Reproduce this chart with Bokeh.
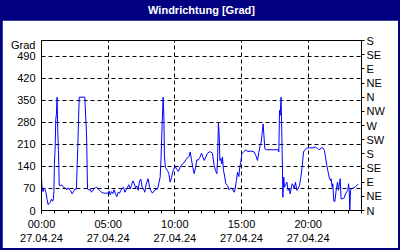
from bokeh.plotting import figure
from bokeh.models import Range1d, LinearAxis, FixedTicker
from bokeh.layouts import column
from bokeh.core.properties import value
from bokeh.embed import file_html
from bokeh.resources import INLINE

FONT = "Liberation Sans"

title_text = "Windrichtung [Grad]"
y_unit_label = "Grad"

# time of day in hours (27.04.24), wind direction in degrees
hours = [0.00, 0.05, 0.12, 0.20, 0.27, 0.33, 0.42, 0.50, 0.58, 0.67, 0.75, 0.80, 0.88, 0.93, 0.97,
         1.02, 1.07, 1.12, 1.17, 1.22, 1.27, 1.30, 1.33, 1.42, 1.50, 1.60, 1.70, 1.80, 1.90, 2.00,
         2.10, 2.20, 2.30, 2.40, 2.50, 2.62, 2.72, 2.78, 2.83, 3.25, 3.30, 3.38, 3.45, 3.55, 3.65,
         3.75, 3.85, 3.95, 4.05, 4.15, 4.25, 4.35, 4.45, 4.55, 4.70, 4.90, 5.00, 5.08, 5.15, 5.25,
         5.35, 5.45, 5.55, 5.65, 5.75, 5.85, 5.95, 6.05, 6.15, 6.25, 6.35, 6.45, 6.55, 6.65, 6.75,
         6.85, 6.95, 7.05, 7.15, 7.25, 7.35, 7.45, 7.55, 7.65, 7.75, 7.85, 8.00, 8.10, 8.20, 8.32,
         8.45, 8.57, 8.70, 8.82, 8.90, 8.97, 9.02, 9.07, 9.12, 9.18, 9.22, 9.30, 9.45, 9.55, 9.65,
         9.75, 9.87, 10.02, 10.15, 10.27, 10.40, 10.57, 10.70, 10.82, 10.95, 11.07, 11.15, 11.25, 11.35, 11.45,
         11.55, 11.65, 11.75, 11.87, 12.00, 12.10, 12.20, 12.32, 12.45, 12.57, 12.70, 12.82, 12.95, 13.05, 13.15,
         13.20, 13.27, 13.33, 13.38, 13.45, 13.52, 13.57, 13.65, 13.75, 13.82, 13.95, 14.07, 14.20, 14.32, 14.45,
         14.52, 14.62, 14.70, 14.80, 14.87, 14.95, 15.02, 15.20, 15.35, 15.45, 15.70, 15.95, 16.07, 16.20, 16.30,
         16.40, 16.48, 16.57, 16.62, 16.67, 16.75, 16.85, 17.75, 17.80, 17.85, 17.90, 17.97, 18.02, 18.07, 18.10,
         18.17, 18.22, 18.30, 18.40, 18.50, 18.58, 18.65, 18.80, 18.88, 18.95, 19.05, 19.15, 19.25, 19.35, 19.45,
         19.55, 19.65, 19.75, 19.90, 20.10, 20.35, 20.55, 20.72, 20.85, 20.97, 21.10, 21.22, 21.30, 21.40, 21.47,
         21.60, 21.68, 21.72, 21.80, 21.85, 21.92, 22.00, 22.10, 22.20, 22.27, 22.40, 22.47, 22.55, 22.70, 22.80,
         22.97, 23.03, 23.08, 23.12, 23.18, 23.27, 23.40, 23.55, 23.75]
degrees = [101, 68, 60, 72, 66, 58, 35, 18, 22, 28, 36, 30, 32, 60, 150,
           195, 290, 305, 360, 250, 190, 140, 80, 78, 82, 76, 73, 70, 66, 72,
           66, 62, 53, 60, 68, 68, 200, 290, 360, 360, 310, 240, 69, 64, 68,
           58, 64, 70, 72, 74, 68, 64, 60, 57, 55, 55, 55, 62, 50, 60,
           54, 66, 52, 44, 58, 55, 64, 70, 74, 58, 66, 74, 82, 68, 80,
           94, 86, 72, 78, 64, 94, 100, 74, 68, 58, 84, 101, 75, 63, 55,
           62, 68, 68, 90, 106, 170, 240, 297, 360, 297, 170, 136, 127, 117, 90,
           105, 127, 140, 130, 124, 138, 148, 152, 161, 168, 172, 186, 161, 136, 117,
           136, 161, 160, 168, 182, 170, 159, 170, 182, 186, 186, 182, 143, 127, 117,
           153, 278, 238, 159, 165, 148, 170, 127, 106, 85, 79, 66, 72, 68, 58,
           68, 95, 122, 108, 138, 153, 180, 188, 193, 187, 189, 186, 175, 159, 185,
           207, 217, 254, 275, 245, 196, 193, 193, 186, 318, 302, 360, 250, 138, 42,
           106, 74, 80, 90, 64, 70, 53, 85, 80, 69, 90, 64, 69, 80, 106,
           138, 186, 193, 198, 199, 199, 202, 196, 193, 199, 199, 191, 170, 143, 127,
           101, 95, 101, 74, 85, 30, 28, 64, 90, 64, 101, 37, 37, 40, 53,
           64, 85, 64, 0, 64, 70, 72, 76, 84]

y_ticks = [0, 70, 140, 210, 280, 350, 420, 490]
y_unit_pos = 525
compass_ticks = [0, 45, 90, 135, 180, 225, 270, 315, 360, 405, 450, 495, 540]
compass_labels = ["N", "NE", "E", "SE", "S", "SW", "W", "NW", "N", "NE", "E", "SE", "S"]
x_ticks = [0, 5, 10, 15, 20]
x_minor_ticks = list(range(0, 25))
x_labels = ["00:00\n27.04.24", "05:00\n27.04.24", "10:00\n27.04.24",
            "15:00\n27.04.24", "20:00\n27.04.24"]

NAVY = "#000080"

# header bar
header = figure(width=396, height=20, x_range=Range1d(0, 1), y_range=Range1d(0, 1),
                output_backend="svg", toolbar_location=None, min_border=0,
                x_axis_type=None, y_axis_type=None,
                background_fill_color=NAVY, border_fill_color=NAVY,
                outline_line_color=None)
header.text(x=[0.5], y=[0.55], text=[title_text], text_align="center", text_baseline="middle",
            text_color="white", text_font=value(FONT), text_font_size="11px",
            text_font_style="bold")

# main chart
p = figure(width=396, height=228, x_range=Range1d(0, 24), y_range=Range1d(0, 540),
           output_backend="svg", toolbar_location=None,
           min_border_left=39, min_border_right=37, min_border_top=20, min_border_bottom=38,
           background_fill_color="white", border_fill_color="white",
           outline_line_color="black", outline_line_width=1)

p.line(hours, degrees, line_color="#0000FF", line_width=1)

p.xaxis.ticker = FixedTicker(ticks=x_ticks, minor_ticks=x_minor_ticks)
p.xaxis.major_label_overrides = {t: l for t, l in zip(x_ticks, x_labels)}
p.xaxis.major_tick_in = 0
p.xaxis.major_tick_out = 3
p.xaxis.minor_tick_in = 0
p.xaxis.minor_tick_out = 3
p.xaxis.major_label_standoff = 4
p.xaxis.major_label_text_line_height = 1.2

# left axis: value ticks plus the unit label "Grad" above the top tick
p.yaxis.ticker = FixedTicker(ticks=y_ticks + [y_unit_pos])
p.yaxis.major_label_overrides = {y_unit_pos: y_unit_label}
p.yaxis.major_tick_in = 0
p.yaxis.major_tick_out = 0
p.yaxis.minor_tick_in = 0
p.yaxis.minor_tick_out = 0
p.yaxis.major_label_standoff = 6
p.ygrid.ticker = FixedTicker(ticks=y_ticks)

right = LinearAxis(ticker=FixedTicker(ticks=compass_ticks),
                   major_label_overrides={t: l for t, l in zip(compass_ticks, compass_labels)},
                   major_tick_in=0, major_tick_out=3, minor_tick_in=0, minor_tick_out=0,
                   major_label_standoff=2)
p.add_layout(right, "right")

for ax in [p.xaxis[0], p.yaxis[0], right]:
    ax.axis_line_color = "black"
    ax.major_tick_line_color = "black"
    ax.minor_tick_line_color = "black"
    ax.major_label_text_font = FONT
    ax.major_label_text_font_size = "11px"
    ax.major_label_text_color = "black"

for g in [p.xgrid[0], p.ygrid[0]]:
    g.grid_line_color = "black"
    g.grid_line_dash = "4 3"
    g.grid_line_width = 1

layout = column(header, p, spacing=0,
                styles={"background-color": NAVY, "padding": "0px 2px 2px 2px"})

open("out.html", "w").write(file_html(layout, INLINE))
